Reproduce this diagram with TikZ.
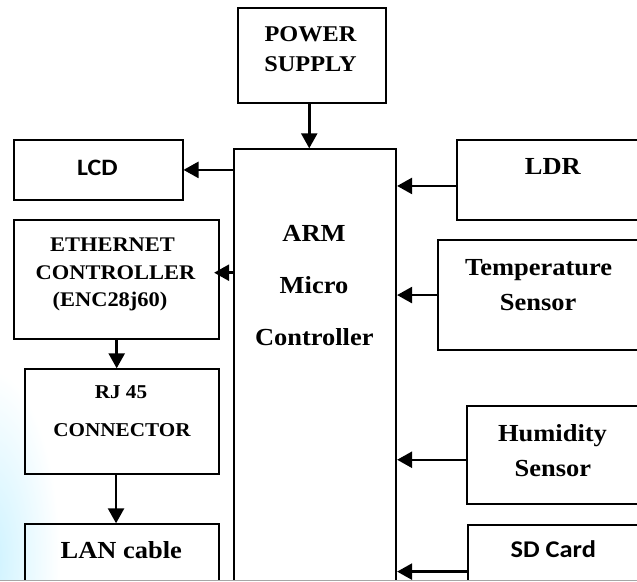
\documentclass[tikz,border=0pt]{standalone}
\usepackage{fontspec}
\setmainfont[FakeStretch=1.08]{Liberation Serif}
\newfontfamily\calfont[FakeStretch=1.1]{Carlito}
\usetikzlibrary{arrows.meta}
\tikzset{
  box/.style={draw, line width=1.8pt, rectangle, inner sep=0pt, anchor=north west},
  arr/.style={line width=2.5pt, -{Triangle[length=15pt,width=16pt]}},
  tb/.style={anchor=base, inner sep=0pt},
}
\newcommand{\serf}[1]{\fontsize{#1}{#1}\selectfont\bfseries}
\newcommand{\sanf}[1]{\calfont\fontsize{#1}{#1}\selectfont\bfseries}
\begin{document}
\begin{tikzpicture}[x=1pt,y=-1pt]
\useasboundingbox (0,0) rectangle (637,581);
\fill[white] (0,0) rectangle (637,581);
% faint watermark glow
\shade[inner color=blue!25!cyan!20, outer color=white] (-10,560) ellipse [x radius=70, y radius=190];
% boxes
\node[box, minimum width=148.3pt, minimum height=95pt] (power) at (236.7,6.7) {};
\node[box, minimum width=162pt, minimum height=445pt] (arm) at (233.3,148.3) {};
\node[box, minimum width=168.3pt, minimum height=60pt] (lcd) at (13.4,139) {};
\node[box, minimum width=205pt, minimum height=119pt] (eth) at (13.3,219.3) {};
\node[box, minimum width=194.3pt, minimum height=104.4pt] (rj) at (24,368.3) {};
\node[box, minimum width=194.3pt, minimum height=70pt] (lan) at (24,523.3) {};
\node[box, minimum width=190pt, minimum height=80.3pt] (ldr) at (455.7,138.7) {};
\node[box, minimum width=210pt, minimum height=110.3pt] (temp) at (436.7,239) {};
\node[box, minimum width=180pt, minimum height=97.7pt] (hum) at (465.7,405) {};
\node[box, minimum width=180pt, minimum height=70pt] (sd) at (467.3,524) {};
% texts
\node[tb, font=\serf{22.5}] (t1) at (310.5,41) {POWER};
\node[tb, font=\serf{22.5}] (t2) at (310.5,71.7) {SUPPLY};
\node[tb, font=\sanf{23.5}] (t3) at (97.4,175) {LCD};
\node[tb, font=\serf{20.8}] (t4) at (112.5,251) {ETHERNET};
\node[tb, font=\serf{20.8}] (t5) at (115.5,279) {CONTROLLER};
\node[tb, font=\serf{20.8}] (t6) at (110,306.7) {(ENC28j60)};
\node[tb, font=\serf{19.6}] (t7) at (121,398.3) {RJ 45};
\node[tb, font=\serf{19.6}] (t8) at (122,436) {CONNECTOR};
\node[tb, font=\serf{24.5}] (t9) at (121.3,558.3) {LAN cable};
\node[tb, font=\serf{24.5}] (t10) at (314,241.7) {ARM};
\node[tb, font=\serf{24.5}] (t11) at (314,293.3) {Micro};
\node[tb, font=\serf{24.5}] (t12) at (314.3,345) {Controller};
\node[tb, font=\serf{24.5}] (t13) at (552.8,174.7) {LDR};
\node[tb, font=\serf{24.5}] (t14) at (538.6,275) {Temperature};
\node[tb, font=\serf{24.5}] (t15) at (538.2,310) {Sensor};
\node[tb, font=\serf{24.5}] (t16) at (552.5,441) {Humidity};
\node[tb, font=\serf{24.5}] (t17) at (552.8,476.7) {Sensor};
\node[tb, font=\sanf{24}] (t18) at (553.3,557.7) {SD Card};
% connectors
\coordinate (pw) at ([xshift=-2.5pt]power.south);
\draw[arr] (pw) -- (pw |- arm.north);
\draw[arr] (arm.west |- lcd.east) -- (lcd.east);
\coordinate (ea) at ([yshift=7pt]eth.east);
\draw[arr] (ea -| arm.west) -- ([xshift=-6pt]ea);
\draw[arr] (eth.south) -- (eth.south |- rj.north);
\coordinate (rl) at ([xshift=-6pt]rj.south);
\draw[arr] (rl) -- (rl |- lan.north);
\coordinate (la) at ([yshift=-6.2pt]ldr.west);
\draw[arr] (la) -- (la -| arm.east);
\draw[arr] (temp.west) -- (temp.west -| arm.east);
\coordinate (ha) at ([yshift=-5pt]hum.west);
\draw[arr] (ha) -- (ha -| arm.east);
\coordinate (sa) at ([yshift=-11.7pt]sd.west);
\draw[arr] (sa) -- (sa -| arm.east);
% bottom edge
\fill[white] (0,580.5) rectangle (637,582);
\draw[black!35, line width=0.8pt] (0,580) -- (637,580);
\end{tikzpicture}
\end{document}
